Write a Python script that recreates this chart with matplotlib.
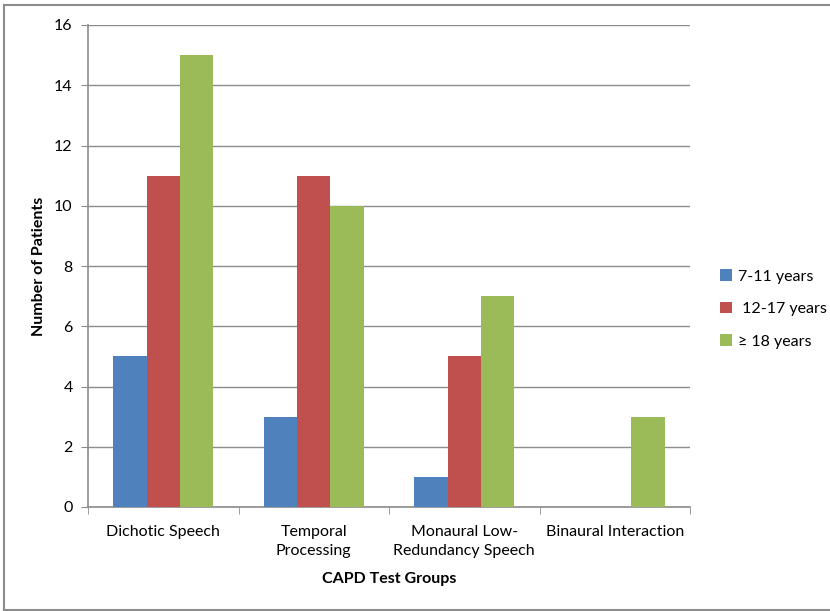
import matplotlib.pyplot as plt
import numpy as np
from matplotlib.lines import Line2D

plt.rcParams['font.family'] = ['Lato', 'DejaVu Sans']

# data
groups = ['Dichotic Speech', 'Temporal\nProcessing', 'Monaural Low-\nRedundancy Speech', 'Binaural Interaction']
age_labels = ['7-11 years', ' 12-17 years', '\u2265 18 years']
age_7_11 = [5, 3, 1, 0]
age_12_17 = [11, 11, 5, 0]
age_18_up = [15, 10, 7, 3]
colors = ['#4F81BD', '#C0504D', '#9BBB59']

W, H = 830, 611
fig = plt.figure(figsize=(W / 100, H / 100), dpi=100)
ax = fig.add_axes([88 / W, 1 - 507 / H, (690 - 88) / W, (507 - 25) / H])

# outer frame (right side is cropped in the original)
grey = '#8c8c8c'
fig.add_artist(Line2D([4 / W, 4 / W], [1 - 5 / H, 1 - 610 / H], color=grey, lw=1.5, transform=fig.transFigure))
fig.add_artist(Line2D([4 / W, 1], [1 - 5 / H, 1 - 5 / H], color=grey, lw=1.5, transform=fig.transFigure))
fig.add_artist(Line2D([4 / W, 1], [1 - 610 / H, 1 - 610 / H], color=grey, lw=1.5, transform=fig.transFigure))

x = np.arange(len(groups))
bw = 1 / 4.5
series = [age_7_11, age_12_17, age_18_up]
for i, (vals, c, lab) in enumerate(zip(series, colors, age_labels)):
    ax.bar(x + (i - 1) * bw, vals, width=bw, color=c, label=lab, zorder=3)

ax.set_xlim(-0.5, len(groups) - 0.5)
ax.set_ylim(0, 16)
ax.set_yticks(range(0, 17, 2))
ax.yaxis.grid(True, color='#8c8c8c', lw=1, zorder=0)
ax.set_xticks(x)
ax.set_xticklabels(groups, fontsize=11.5, linespacing=1.45)
ax.set_xticks(np.arange(-0.5, len(groups)), minor=True)
ax.tick_params(axis='x', which='major', length=0, pad=13)
ax.tick_params(axis='x', which='minor', length=5, color=grey, direction='out')
ax.tick_params(axis='y', length=5, color=grey, labelsize=11.5, pad=6)

for s in ['top', 'right']:
    ax.spines[s].set_visible(False)
for s in ['left', 'bottom']:
    ax.spines[s].set_color(grey)
    ax.spines[s].set_linewidth(1.2)

ax.set_ylabel('Number of Patients', fontsize=11.5, fontweight='bold', labelpad=6)
ax.set_xlabel('CAPD Test Groups', fontsize=11.5, fontweight='bold', labelpad=10)

fig.legend(loc='center left', bbox_to_anchor=(706 / W, 1 - 309 / H), frameon=False,
           fontsize=11.5, handlelength=0.7, handleheight=0.7, handletextpad=0.4,
           labelspacing=1.15)

fig.savefig('out.png', dpi=100)
